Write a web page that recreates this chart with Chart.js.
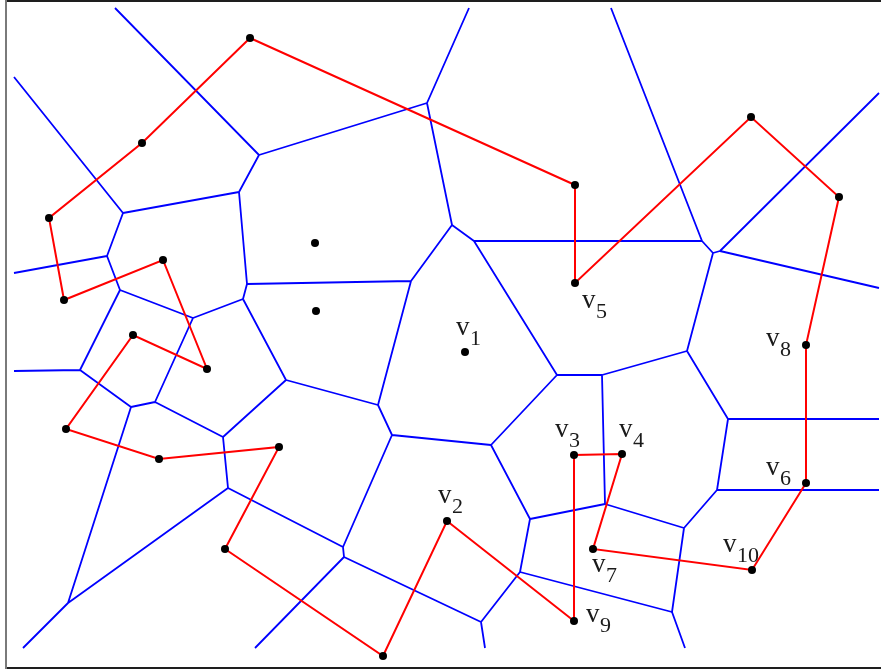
<!DOCTYPE html>
<html>
<head>
<meta charset="utf-8">
<script src="https://cdn.jsdelivr.net/npm/chart.js@4.4.1/dist/chart.umd.min.js"></script>
<style>
  html, body { margin: 0; padding: 0; background: #fff; }
  canvas { display: block; }
</style>
</head>
<body>
<canvas id="voronoi" width="881" height="671"></canvas>
<script>
// sites on the red tour, in visiting order (the tour closes back on the first)
const tour = [
    [250, 38], [142, 143], [49, 218], [64, 300], [163, 260], [207, 369],
    [133, 335], [66, 429], [159, 459], [279, 447], [225, 549], [383, 656],
    [447, 521], [574, 621], [574, 455], [622, 454], [593, 549], [752, 570],
    [806, 483], [806, 345], [839, 197], [751, 117], [575, 283], [575, 185]
]

// sites not on the tour
const otherSites = [[315, 243], [316, 311], [465, 352]]

// voronoi edges, each one a pair of end points
const edges = [
    [[115, 8], [259, 155]], [[14, 77], [123, 213]], [[123, 213], [239, 192]],
    [[239, 192], [259, 155]], [[259, 155], [427, 103]], [[427, 103], [469, 8]],
    [[427, 103], [452, 225]], [[239, 192], [247, 284]], [[247, 284], [411, 281]],
    [[247, 284], [243, 299]], [[243, 299], [193, 318]], [[243, 299], [286, 380]],
    [[411, 281], [452, 225]], [[452, 225], [474, 241]], [[474, 241], [702, 241]],
    [[702, 241], [611, 8]], [[702, 241], [713, 253]], [[713, 253], [720, 251]],
    [[720, 251], [879, 93]], [[720, 251], [879, 288]], [[713, 253], [687, 351]],
    [[687, 351], [602, 375]], [[602, 375], [557, 375]], [[602, 375], [605, 504]],
    [[687, 351], [728, 419]], [[728, 419], [879, 419]], [[728, 419], [717, 490]],
    [[717, 490], [879, 490]], [[717, 490], [684, 528]], [[684, 528], [605, 504]],
    [[605, 504], [530, 519]], [[684, 528], [672, 612]], [[672, 612], [685, 648]],
    [[672, 612], [520, 572]], [[520, 572], [530, 519]], [[520, 572], [481, 622]],
    [[481, 622], [485, 648]], [[530, 519], [491, 445]], [[491, 445], [557, 375]],
    [[557, 375], [474, 241]], [[491, 445], [392, 435]], [[392, 435], [378, 405]],
    [[378, 405], [411, 281]], [[378, 405], [286, 380]], [[392, 435], [343, 547]],
    [[343, 547], [344, 557]], [[344, 557], [481, 622]], [[344, 557], [255, 648]],
    [[228, 488], [343, 547]], [[228, 488], [223, 437]], [[223, 437], [286, 380]],
    [[223, 437], [155, 402]], [[228, 488], [68, 603]], [[68, 603], [23, 648]],
    [[68, 603], [131, 407]], [[131, 407], [155, 402]], [[131, 407], [80, 370]],
    [[80, 370], [14, 371]], [[80, 370], [120, 290]], [[120, 290], [107, 256]],
    [[107, 256], [14, 273]], [[107, 256], [123, 213]], [[120, 290], [193, 318]],
    [[193, 318], [155, 402]]
]

// vertex names and where their text sits
const labelNames = ['1', '2', '3', '4', '5', '6', '7', '8', '9', '10']
const labelAt = [
    [456, 335], [438, 503], [555, 437], [619, 437], [582, 308],
    [766, 475], [592, 572], [766, 346], [586, 622], [723, 552]
]

const toPoint = p => ({ x: p[0], y: p[1] })

const edgeData = []
edges.forEach(e => {
    edgeData.push(toPoint(e[0]), toPoint(e[1]), { x: null, y: null })
})

const tourData = tour.map(toPoint)
tourData.push(toPoint(tour[0]))

const siteData = tour.concat(otherSites).map(toPoint)

const framePlugin = {
    id: 'frame',
    beforeDatasetsDraw(chart) {
        const { ctx, scales: { x, y } } = chart
        ctx.save()
        ctx.lineWidth = 2
        ctx.strokeStyle = '#1e1e1e'
        ctx.beginPath()
        ctx.moveTo(x.getPixelForValue(5), y.getPixelForValue(1))
        ctx.lineTo(x.getPixelForValue(881), y.getPixelForValue(1))
        ctx.moveTo(x.getPixelForValue(5), y.getPixelForValue(668))
        ctx.lineTo(x.getPixelForValue(881), y.getPixelForValue(668))
        ctx.stroke()
        ctx.strokeStyle = '#7a7a7a'
        ctx.beginPath()
        ctx.moveTo(x.getPixelForValue(6), y.getPixelForValue(0))
        ctx.lineTo(x.getPixelForValue(6), y.getPixelForValue(669))
        ctx.stroke()
        ctx.restore()
    }
}

const labelPlugin = {
    id: 'vlabels',
    afterDatasetsDraw(chart) {
        const { ctx, scales: { x, y } } = chart
        ctx.save()
        ctx.fillStyle = '#1a1a1a'
        ctx.textBaseline = 'alphabetic'
        ctx.textAlign = 'left'
        labelNames.forEach((name, i) => {
            const px = x.getPixelForValue(labelAt[i][0])
            const py = y.getPixelForValue(labelAt[i][1])
            ctx.font = '27px "Liberation Serif", "Times New Roman", serif'
            ctx.fillText('v', px, py)
            const w = ctx.measureText('v').width
            ctx.font = '22px "Liberation Serif", "Times New Roman", serif'
            ctx.fillText(name, px + w + 0.5, py + 10)
        })
        ctx.restore()
    }
}

const chart = new Chart(document.getElementById('voronoi'), {
    type: 'scatter',
    data: {
        datasets: [
            {
                label: 'sitios',
                data: siteData,
                showLine: false,
                pointRadius: 4,
                pointBorderWidth: 0,
                pointBackgroundColor: '#000',
                order: 1
            },
            {
                label: 'recorrido',
                data: tourData,
                showLine: true,
                borderColor: '#ff0000',
                borderWidth: 2,
                pointRadius: 0,
                tension: 0,
                order: 2
            },
            {
                label: 'aristas',
                data: edgeData,
                showLine: true,
                spanGaps: false,
                borderColor: '#0000ff',
                borderWidth: 1.8,
                pointRadius: 0,
                tension: 0,
                order: 3
            }
        ]
    },
    options: {
        responsive: false,
        animation: false,
        layout: { padding: 0, autoPadding: false },
        plugins: {
            legend: { display: false },
            tooltip: { enabled: false }
        },
        scales: {
            x: { type: 'linear', min: 0, max: 881, display: false },
            y: { type: 'linear', min: 0, max: 671, reverse: true, display: false }
        }
    },
    plugins: [framePlugin, labelPlugin]
})
</script>
</body>
</html>
